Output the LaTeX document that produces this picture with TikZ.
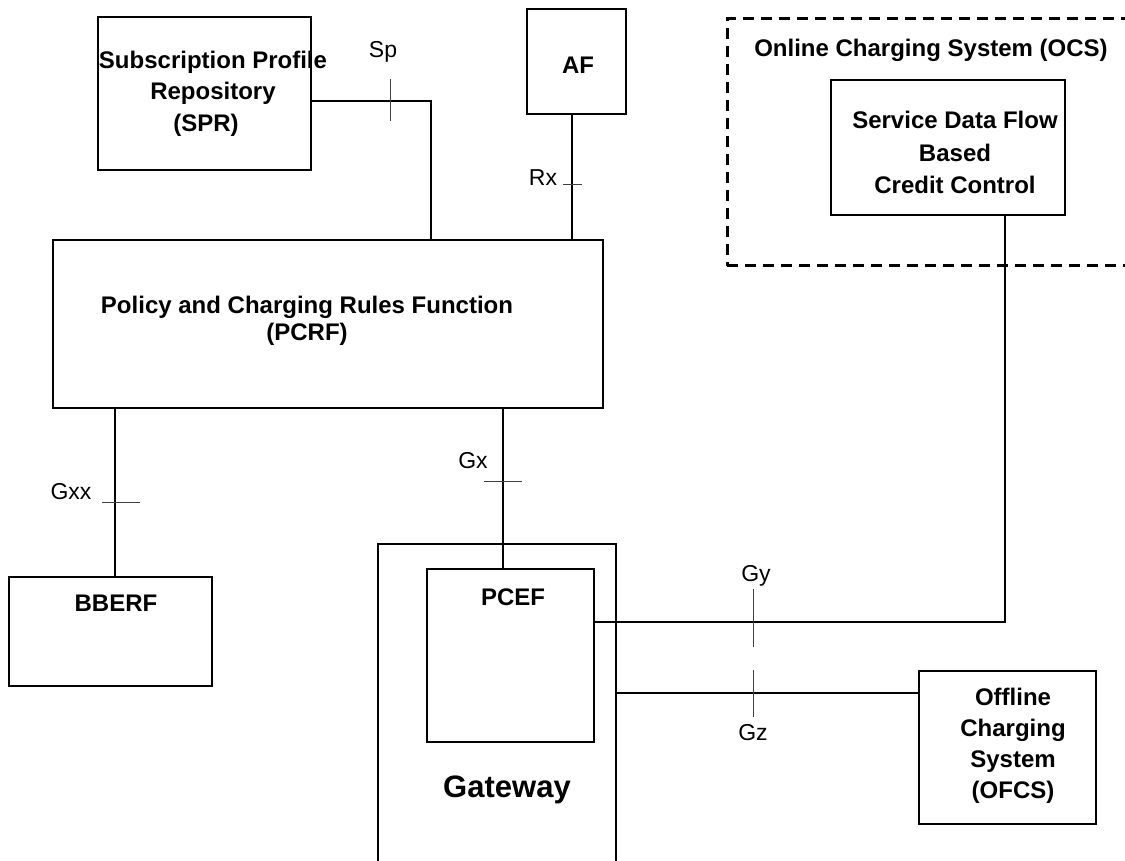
\documentclass[tikz,border=0pt]{standalone}
\usepackage{fontspec}
\setmainfont{Liberation Sans}
\begin{document}
\begin{tikzpicture}[x=1pt,y=-1pt,
  box/.style={draw=black, line width=1.3pt, rectangle, inner sep=0pt, outer sep=0pt, anchor=north west},
  conn/.style={line width=1.2pt, draw=black},
  tickmark/.style={line width=0.9pt, draw=black!75},
  bt/.style={font=\fontsize{24}{29}\selectfont\bfseries, inner sep=0pt, anchor=base},
  bigt/.style={font=\fontsize{31}{36}\selectfont\bfseries, inner sep=0pt, anchor=base},
  lt/.style={font=\fontsize{23}{28}\selectfont, inner sep=0pt, anchor=base}]
\useasboundingbox (0,0) rectangle (1125,861);

% OCS dashed container
\node[box, line width=3pt, dash pattern=on 11pt off 7pt, minimum width=430pt, minimum height=247pt] (ocs) at (727,19) {};
\node[bt] (ocst) at (931,57) {Online Charging System (OCS)};

% boxes
\node[box, minimum width=213pt, minimum height=153pt] (spr) at (98,17) {};
\node[box, minimum width=99pt, minimum height=105pt] (af) at (527,9) {};
\node[box, minimum width=550pt, minimum height=168pt] (pcrf) at (53,240) {};
\node[box, minimum width=234pt, minimum height=135pt] (sdf) at (831,80) {};
\node[box, minimum width=203pt, minimum height=109pt] (bberf) at (9,577) {};
\node[box, minimum width=238pt, minimum height=340pt] (gw) at (378,544) {};
\node[box, minimum width=167pt, minimum height=173pt] (pcef) at (427,569) {};
\node[box, minimum width=177pt, minimum height=153pt] (ofcs) at (919,671) {};

% box texts
\node[bt] (sprt1) at (213,69) {Subscription Profile};
\node[bt] (sprt2) at (213,100) {Repository};
\node[bt] (sprt3) at (206,132) {(SPR)};
\node[bt] (aft) at (578,74) {AF};
\node[bt] (pcrft1) at (307,313) {Policy and Charging Rules Function};
\node[bt] (pcrft2) at (307,340) {(PCRF)};
\node[bt] (sdft1) at (955,129) {Service Data Flow};
\node[bt] (sdft2) at (955,162) {Based};
\node[bt] (sdft3) at (955,194) {Credit Control};
\node[bt] (bberft) at (116,611) {BBERF};
\node[bt] (pceft) at (513,605) {PCEF};
\node[bigt] (gwt) at (507,797) {Gateway};
\node[bt] (ofcst1) at (1013,705) {Offline};
\node[bt] (ofcst2) at (1013,736) {Charging};
\node[bt] (ofcst3) at (1013,767) {System};
\node[bt] (ofcst4) at (1013,798) {(OFCS)};

% connectors
\coordinate (spbend) at (431,101);
\draw[conn] (spr.east |- spbend) -- (spbend) -- (spbend |- pcrf.north);
\coordinate (rxx) at (572,0);
\draw[conn] (af.south -| rxx) -- (rxx |- pcrf.north);
\coordinate (gxxx) at (115,0);
\draw[conn] (pcrf.south -| gxxx) -- (bberf.north -| gxxx);
\coordinate (gxx) at (503,0);
\draw[conn] (pcrf.south -| gxx) -- (pcef.north -| gxx);
\coordinate (gybend) at (1005,622);
\draw[conn] (sdf.south -| gybend) -- (gybend) -- (pcef.east |- gybend);
\coordinate (gzy) at (0,693);
\draw[conn] (gw.east |- gzy) -- (ofcs.west |- gzy);

% reference point ticks
\coordinate (spa) at (390,79); \coordinate (spb) at (390,121);
\draw[tickmark] (spa) -- (spb);
\coordinate (rxa) at (563,184); \coordinate (rxb) at (582,184);
\draw[tickmark] (rxa) -- (rxb);
\coordinate (gxxa) at (102,502); \coordinate (gxxb) at (140,502);
\draw[tickmark] (gxxa) -- (gxxb);
\coordinate (gxa) at (484,481); \coordinate (gxb) at (522,481);
\draw[tickmark] (gxa) -- (gxb);
\coordinate (gya) at (753,589); \coordinate (gyb) at (753,647);
\draw[tickmark] (gya) -- (gyb);
\coordinate (gza) at (753,670); \coordinate (gzb) at (753,717);
\draw[tickmark] (gza) -- (gzb);

% reference point labels
\node[lt] (spl) at (383,58) {Sp};
\node[lt] (rxl) at (543,186) {Rx};
\node[lt] (gxxl) at (71,499) {Gxx};
\node[lt] (gxl) at (473,468) {Gx};
\node[lt] (gyl) at (756,581) {Gy};
\node[lt] (gzl) at (753,740) {Gz};
\end{tikzpicture}
\end{document}
